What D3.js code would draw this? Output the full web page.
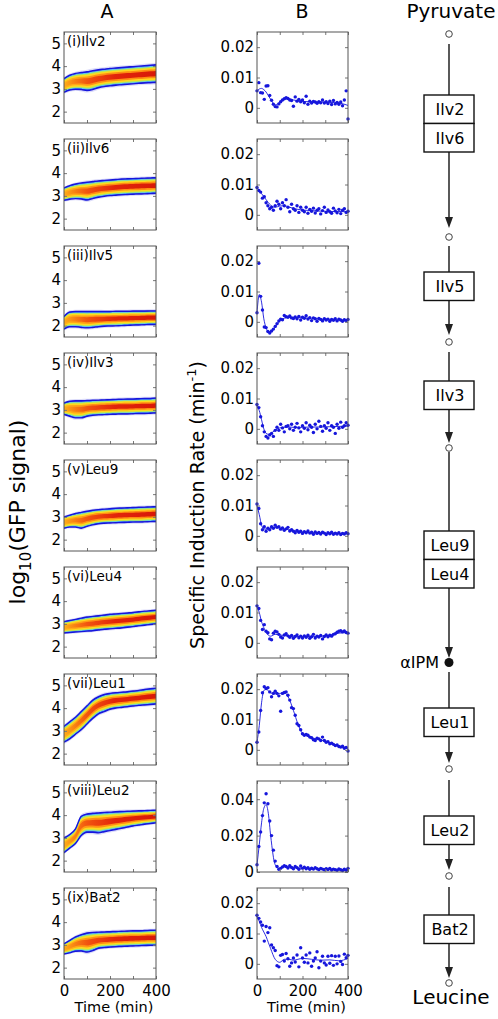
<!DOCTYPE html>
<html><head><meta charset="utf-8">
<script src="https://cdn.jsdelivr.net/npm/d3@7"></script>
<style>body{margin:0;background:#fff}svg{display:block}text{font-family:"DejaVu Sans",sans-serif}</style>
</head><body>
<svg id="c" width="498" height="1019"></svg>
<script>
// ---------------- DATA ----------------
const strains = ["(i)Ilv2","(ii)Ilv6","(iii)Ilv5","(iv)Ilv3","(v)Leu9","(vi)Leu4","(vii)Leu1","(viii)Leu2","(ix)Bat2"];
const gfpTicks = [2,3,4,5];
const rateTicks = [[0,0.01,0.02],[0,0.01,0.02],[0,0.01,0.02],[0,0.01,0.02],[0,0.01,0.02],[0,0.01,0.02],[0,0.01,0.02],[0,0.02,0.04],[0,0.01,0.02]];
const timeTicks = [0,100,200,300,400];
const timeLabels = [0,200,400];

// Panel A: log10 GFP distribution envelope (upper / lower contour) sampled every 25 min
const timesA = [0,25,50,75,100,125,150,175,200,225,250,275,300,325,350,375,400];
const upperA = [
 [3.45,3.6,3.68,3.72,3.75,3.8,3.84,3.87,3.9,3.92,3.94,3.96,3.98,4.0,4.02,4.04,4.06],
 [3.35,3.45,3.52,3.57,3.6,3.63,3.66,3.68,3.7,3.72,3.74,3.75,3.76,3.77,3.78,3.79,3.8],
 [2.4,2.6,2.62,2.62,2.62,2.62,2.62,2.62,2.62,2.63,2.63,2.63,2.64,2.64,2.64,2.65,2.65],
 [3.3,3.38,3.4,3.4,3.41,3.42,3.43,3.44,3.45,3.46,3.47,3.48,3.48,3.49,3.5,3.5,3.52],
 [3.0,3.08,3.15,3.2,3.25,3.29,3.32,3.34,3.36,3.38,3.39,3.4,3.41,3.42,3.43,3.44,3.45],
 [3.1,3.15,3.2,3.25,3.3,3.33,3.36,3.39,3.42,3.44,3.46,3.48,3.5,3.53,3.56,3.58,3.6],
 [3.2,3.4,3.6,3.85,4.1,4.35,4.5,4.6,4.65,4.68,4.7,4.72,4.75,4.78,4.82,4.85,4.88],
 [3.0,3.15,3.4,3.95,4.05,4.08,4.1,4.12,4.13,4.15,4.16,4.17,4.18,4.19,4.2,4.21,4.22],
 [3.05,3.2,3.35,3.45,3.52,3.55,3.56,3.57,3.58,3.59,3.6,3.61,3.62,3.62,3.63,3.64,3.65]
];
const lowerA = [
 [2.85,2.95,2.98,2.97,2.93,2.97,3.05,3.1,3.13,3.16,3.18,3.2,3.22,3.24,3.26,3.27,3.28],
 [2.8,2.85,2.88,2.86,2.82,2.88,2.94,2.98,3.01,3.03,3.05,3.06,3.07,3.08,3.09,3.1,3.11],
 [1.85,1.95,1.95,1.92,1.9,1.92,1.95,1.97,1.98,1.99,2.0,2.01,2.02,2.03,2.04,2.05,2.05],
 [2.8,2.72,2.65,2.65,2.72,2.76,2.78,2.79,2.8,2.81,2.82,2.82,2.83,2.84,2.84,2.85,2.86],
 [2.5,2.55,2.55,2.5,2.58,2.65,2.7,2.72,2.73,2.74,2.75,2.76,2.77,2.77,2.78,2.79,2.8],
 [2.6,2.62,2.64,2.66,2.68,2.7,2.73,2.76,2.78,2.8,2.82,2.85,2.88,2.91,2.94,2.97,3.0],
 [2.5,2.65,2.85,3.05,3.3,3.55,3.75,3.85,3.95,4.0,4.03,4.06,4.09,4.12,4.14,4.16,4.18],
 [2.35,2.55,2.75,3.1,3.25,3.25,3.22,3.27,3.32,3.37,3.42,3.47,3.52,3.56,3.6,3.63,3.66],
 [2.6,2.65,2.72,2.73,2.68,2.75,2.85,2.88,2.9,2.92,2.93,2.94,2.95,2.96,2.97,2.98,2.98]
];

// Panel B: specific induction rate (units of 1e-3 min^-1), points every 8 min
const timesB = d3.range(0, 401, 8);
const rateB = [
 [5.6,8.3,5.0,4.9,2.8,7.2,7.3,4.1,2.5,1.2,0.4,0.3,1.3,2.0,2.6,3.0,3.3,3.1,2.6,2.4,0.5,3.6,2.2,2.8,2.0,2.6,1.7,3.8,1.2,2.2,1.6,2.1,1.9,1.5,2.0,1.7,2.6,1.6,2.0,1.4,2.2,1.1,2.4,1.3,1.8,1.2,1.9,0.7,2.6,5.6,-3.7],
 [9.0,8.0,7.5,5.5,6.0,4.0,3.0,2.0,2.5,1.5,3.0,4.5,3.5,2.0,4.0,3.0,5.0,2.5,1.0,3.5,2.0,1.5,3.0,0.8,2.5,1.5,1.0,2.5,0.5,1.8,1.2,2.2,0.6,1.5,2.0,0.3,1.4,2.5,0.8,1.6,1.0,0.5,2.2,1.3,0.7,1.8,0.4,1.5,2.0,0.8,1.2],
 [3.0,19.3,8.4,3.9,-1.7,-1.9,-3.2,-3.7,-3.0,-2.4,-1.5,-0.6,0.3,0.9,0.7,2.1,1.7,1.5,1.9,1.3,1.1,1.6,1.0,1.8,0.6,1.5,1.2,2.0,0.9,1.4,0.4,1.3,1.0,0.2,1.1,0.8,0.3,1.0,0.6,0.9,0.2,0.8,0.5,1.0,0.3,0.9,0.6,0.2,0.7,0.4,0.8],
 [8.0,7.0,4.0,1.0,-1.0,-2.5,-3.0,-2.0,-1.5,-2.5,-0.5,0.5,-0.5,1.5,0.3,-1.0,0.8,1.0,0.0,1.5,-0.5,0.5,1.8,0.3,-1.0,1.0,0.2,2.0,-0.3,1.2,0.5,-1.2,1.5,0.0,2.5,0.8,-0.8,1.0,0.2,2.0,-0.5,1.0,0.5,-1.5,1.5,0.2,2.2,0.5,1.0,2.0,1.2],
 [10.5,9.0,4.0,2.0,3.0,1.5,2.5,2.0,3.0,2.5,3.5,2.8,3.0,2.2,2.6,1.8,2.3,2.8,1.6,2.0,1.5,1.0,1.8,1.2,1.5,0.8,1.4,1.0,1.6,0.9,1.2,0.5,1.3,0.8,1.1,0.6,1.2,0.9,0.4,1.0,0.7,1.2,0.5,0.9,0.6,1.0,0.4,0.8,0.6,1.0,0.7],
 [12.2,11.3,7.4,4.4,6.0,3.8,3.3,1.3,1.0,3.2,3.8,3.6,2.8,1.9,1.6,2.6,3.0,2.3,1.8,2.4,1.5,2.1,2.6,1.7,2.2,1.6,2.3,1.8,2.5,1.5,2.0,2.8,1.6,2.2,1.9,2.4,1.3,2.1,2.6,2.0,2.5,2.2,2.8,3.0,3.5,3.8,4.0,3.6,3.9,3.4,3.2],
 [2.5,5.9,13.0,18.8,20.8,20.2,20.5,19.1,17.5,18.6,19.3,18.6,17.8,12.7,18.6,18.9,19.1,18.0,16.4,13.9,13.6,11.4,8.6,8.0,6.6,5.3,4.8,5.1,4.8,4.2,4.0,3.3,3.1,3.8,3.6,3.1,4.2,3.1,2.5,2.7,2.0,2.2,1.8,1.4,1.6,1.1,0.9,1.2,0.5,0.8,-0.4],
 [4.0,14.0,22.0,31.0,38.0,43.0,37.5,28.0,20.0,12.0,6.0,3.0,1.5,2.0,2.8,3.5,3.0,2.2,3.4,2.5,1.8,3.0,2.4,1.5,3.3,2.0,2.6,1.8,2.3,1.5,2.1,1.6,2.4,1.8,1.3,2.0,1.6,1.2,1.8,1.4,1.9,1.1,1.6,1.3,1.0,1.7,1.2,0.8,1.5,1.0,2.0],
 [16.0,15.0,13.8,12.7,7.5,12.3,10.3,11.9,6.2,5.3,4.4,-0.6,-1.0,2.8,3.1,0.9,3.4,1.7,-0.8,0.3,1.9,0.6,2.9,-1.0,5.3,1.9,0.5,2.9,0.3,3.6,-0.8,0.9,1.9,4.0,-1.3,0.9,2.5,0.3,-0.4,2.5,0.2,2.7,-0.5,2.5,0.0,2.6,0.8,-0.2,3.2,2.0,2.8]
];
// Smoothed fit of the rate (units of 1e-3 min^-1)
const fitTimes = [0,10,20,30,40,50,60,80,100,120,140,160,180,200,240,280,320,360,400];
const fitB = [
 [5.5,6.2,6.4,6.0,5.2,4.0,2.8,1.0,1.8,2.8,3.0,2.6,2.3,2.1,2.0,1.9,1.8,1.6,0.8],
 [9.0,8.0,7.0,6.0,5.0,4.0,3.2,2.5,2.9,3.0,2.6,2.1,1.8,1.6,1.4,1.2,1.1,1.1,1.0],
 [3.0,9.0,6.5,1.0,-2.0,-3.3,-3.3,-1.8,0.2,1.2,1.5,1.5,1.4,1.3,1.1,0.9,0.7,0.6,0.6],
 [7.5,6.0,3.0,0.0,-1.5,-1.8,-1.5,-0.5,0.3,0.5,0.6,0.5,0.5,0.5,0.6,0.6,0.7,0.8,0.9],
 [10.0,7.0,3.5,2.3,2.2,2.4,2.6,2.8,2.6,2.3,2.0,1.7,1.4,1.2,1.0,0.9,0.8,0.8,0.8],
 [12.0,10.0,7.0,5.0,3.5,2.5,2.2,2.8,2.6,2.4,2.3,2.2,2.1,2.1,2.1,2.2,2.5,3.2,3.4],
 [2.5,8.0,15.5,19.5,20.0,19.5,18.8,18.5,18.6,18.8,17.0,13.0,8.5,5.5,4.0,3.3,2.3,1.3,0.3],
 [4.0,15.0,27.0,35.0,37.0,32.0,20.0,4.0,1.8,2.8,2.7,2.4,2.2,2.1,1.9,1.7,1.5,1.3,1.2],
 [15.5,14.0,12.0,10.5,9.0,7.0,5.0,1.5,0.5,1.5,1.5,1.2,1.5,1.8,1.5,1.2,1.3,1.0,1.8]
];
const rateDomains = [[-0.005,0.025],[-0.005,0.025],[-0.005,0.025],[-0.005,0.025],[-0.005,0.025],[-0.005,0.025],[-0.005,0.025],[0,0.05],[-0.005,0.025]];

// Pathway
const metabolites = ["Pyruvate","Leucine"];
const enzymeGroups = [["Ilv2","Ilv6"],["Ilv5"],["Ilv3"],["Leu9","Leu4"],["Leu1"],["Leu2"],["Bat2"]];
const branchMetabolite = "αIPM";

// ---------------- DRAW ----------------
const svg = d3.select("#c");
const defs = svg.append("defs");
const F = '"DejaVu Sans", sans-serif';
const top0 = 32, pitch = 107, ph = 91;
const AX = 64, AW = 92, BX = 257, BW = 91;
const frameCol = "#555", blue = "#1616dc";

function grad(id, stops){
  const g = defs.append("linearGradient").attr("id", id).attr("x1","0").attr("x2","1").attr("y1","0").attr("y2","0");
  stops.forEach(s => g.append("stop").attr("offset", s[0]).attr("stop-color", s[1]).attr("stop-opacity", s[2]));
}
grad("gOr", [[0,"#ff9a14",0.55],[0.3,"#ff9014",1],[1,"#ff8a10",1]]);
grad("gRed", [[0,"#e82a0c",0.05],[0.25,"#e82a0c",0.6],[0.55,"#e0200a",0.95],[1,"#d81808",1]]);

svg.append("text").attr("x",107).attr("y",18).attr("text-anchor","middle").attr("font-size",19).text("A");
svg.append("text").attr("x",302).attr("y",18).attr("text-anchor","middle").attr("font-size",19).text("B");

strains.forEach((name, i) => {
  const ty = top0 + i*pitch;
  // ---- panel A ----
  const gA = svg.append("g").attr("transform",`translate(${AX},${ty})`);
  const x = d3.scaleLinear().domain([0,400]).range([0,AW]);
  const y = d3.scaleLinear().domain([1.5,5.5]).range([ph,0]);
  const cid = "clipA"+i;
  defs.append("clipPath").attr("id",cid).append("rect").attr("width",AW).attr("height",ph);
  const pts = timesA.map((t,k)=>({t, lo: lowerA[i][k], hi: upperA[i][k]}));
  const layers = [
    {f:1.22, c:"#dcdcfa"},
    {f:1.0, c:"#3434dc"},
    {f:0.9, c:"#58c4f4"},
    {f:0.8, c:"#b4e85c"},
    {f:0.68, c:"#ffd81e"},
    {f:0.5, c:"url(#gOr)"},
    {f:0.3, c:"url(#gRed)"}
  ];
  const gd = gA.append("g").attr("clip-path",`url(#${cid})`);
  layers.forEach(L => {
    const area = d3.area().curve(d3.curveMonotoneX)
      .x(d=>x(d.t))
      .y0(d=>y((d.hi+d.lo)/2 - L.f*(d.hi-d.lo)/2))
      .y1(d=>y((d.hi+d.lo)/2 + L.f*(d.hi-d.lo)/2));
    gd.append("path").attr("d", area(pts)).attr("fill", L.c);
  });
  ["hi","lo"].forEach(k => {
    gd.append("path").attr("d", d3.line().curve(d3.curveMonotoneX).x(d=>x(d.t)).y(d=>y(d[k]))(pts))
      .attr("fill","none").attr("stroke",blue).attr("stroke-width",1.4);
  });
  axes(gA, x, y, AW, gfpTicks, d=>d, i===8);
  gA.append("text").attr("x",3).attr("y",14).attr("font-size",13.5).text(name);

  // ---- panel B ----
  const gB = svg.append("g").attr("transform",`translate(${BX},${ty})`);
  const xb = d3.scaleLinear().domain([0,400]).range([0,BW]);
  const yb = d3.scaleLinear().domain(rateDomains[i]).range([ph,0]);
  const cb = "clipB"+i;
  defs.append("clipPath").attr("id",cb).append("rect").attr("x",-2).attr("y",-2).attr("width",BW+4).attr("height",ph+4);
  const gbd = gB.append("g").attr("clip-path",`url(#${cb})`);
  gbd.append("path")
    .attr("d", d3.line().curve(d3.curveMonotoneX).x((t)=>xb(t)).y((t,k)=>yb(fitB[i][k]/1000))(fitTimes))
    .attr("fill","none").attr("stroke",blue).attr("stroke-width",0.9);
  gbd.selectAll("circle").data(timesB).join("circle")
    .attr("cx", t=>xb(t)).attr("cy",(t,k)=>yb(rateB[i][k]/1000)).attr("r",1.7).attr("fill",blue);
  axes(gB, xb, yb, BW, rateTicks[i], d=> d===0 ? "0" : d3.format(".2f")(d), i===8);
});

function axes(g, x, y, w, yt, fmt, bottom){
  const la = d3.axisLeft(y).tickValues(yt).tickSizeInner(-3).tickSizeOuter(0).tickPadding(3).tickFormat(fmt);
  const ga = g.append("g").call(la);
  const ra = d3.axisRight(y).tickValues(yt).tickSizeInner(-3).tickSizeOuter(0).tickFormat("");
  const gr = g.append("g").attr("transform",`translate(${w},0)`).call(ra);
  const ta = d3.axisTop(x).tickValues(timeTicks).tickSizeInner(-3).tickSizeOuter(0).tickFormat("");
  const gt = g.append("g").call(ta);
  const ba = d3.axisBottom(x).tickValues(timeTicks).tickSizeInner(-3).tickSizeOuter(0).tickPadding(6)
    .tickFormat(d => bottom && timeLabels.includes(d) ? d : "");
  const gb = g.append("g").attr("transform",`translate(0,${ph})`).call(ba);
  [ga,gr,gt,gb].forEach(s => {
    s.select(".domain").remove();
    s.selectAll(".tick line").attr("stroke","#777");
    s.selectAll("text").attr("font-family",F).attr("font-size",15).attr("fill","#000");
  });
  g.append("rect").attr("width",w).attr("height",ph).attr("fill","none").attr("stroke",frameCol).attr("stroke-width",1);
  if (bottom) {
    g.append("text").attr("x",w/2+4).attr("y",ph+33).attr("text-anchor","middle").attr("font-size",14.5).text("Time (min)");
  }
}

// axis titles
const yl = svg.append("text").attr("transform","translate(25,512) rotate(-90)").attr("text-anchor","middle").attr("font-size",22);
yl.append("tspan").text("log");
yl.append("tspan").attr("font-size",15).attr("dy",6).text("10");
yl.append("tspan").attr("dy",-6).text("(GFP signal)");
const yr = svg.append("text").attr("transform","translate(204,505) rotate(-90)").attr("text-anchor","middle").attr("font-size",19);
yr.append("tspan").text("Specific Induction Rate (min");
yr.append("tspan").attr("font-size",13).attr("dy",-8).text("-1");
yr.append("tspan").attr("dy",8).text(")");

// ---------------- PATHWAY ----------------
const px = 449, bw = 50, bh = 28.5;
const gp = svg.append("g");
gp.append("text").attr("x",451).attr("y",18).attr("text-anchor","middle").attr("font-size",20).text(metabolites[0]);
gp.append("text").attr("x",451).attr("y",1004).attr("text-anchor","middle").attr("font-size",20).text(metabolites[1]);
const boxTops = [95,272,381,531,708,816,915];
const segs = [[44,95,0],[152,228,1],[246,272,0],[300,335,1],[352,381,0],[410,443,1],[452,531,0],[588,658,1],[672,708,0],[737,763,1],[780,816,0],[845,870,1],[887,915,0],[943,978,1]];
segs.forEach(s => {
  gp.append("line").attr("x1",px).attr("x2",px).attr("y1",s[0]).attr("y2",s[2]? s[1]-8 : s[1]).attr("stroke","#000").attr("stroke-width",1.3);
  if (s[2]) gp.append("path").attr("d",`M${px-4},${s[1]-11}L${px+4},${s[1]-11}L${px},${s[1]}Z`).attr("fill","#222");
});
enzymeGroups.forEach((grp, k) => {
  grp.forEach((nm, j) => {
    const t = boxTops[k] + j*bh;
    gp.append("rect").attr("x",px-bw/2).attr("y",t).attr("width",bw).attr("height",bh)
      .attr("fill","#fff").attr("stroke","#111").attr("stroke-width",1.4);
    gp.append("text").attr("x",px+1).attr("y",t+bh/2+6).attr("text-anchor","middle").attr("font-size",16).text(nm);
  });
});
[34,237,342,448,769,876,983].forEach(cy => {
  gp.append("circle").attr("cx",px).attr("cy",cy).attr("r",3.3).attr("fill","#fff").attr("stroke","#444").attr("stroke-width",1);
});
gp.append("circle").attr("cx",px).attr("cy",662.5).attr("r",4.5).attr("fill","#111");
gp.append("text").attr("x",439).attr("y",668).attr("text-anchor","end").attr("font-size",16).text(branchMetabolite);
</script>
</body></html>
